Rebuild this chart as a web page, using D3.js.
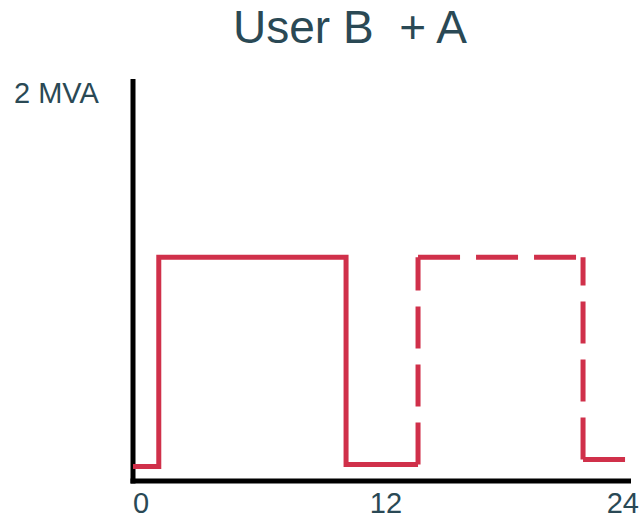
<!DOCTYPE html>
<html>
<head>
<meta charset="utf-8">
<script src="https://cdn.jsdelivr.net/npm/d3@7"></script>
<style>
  html, body { margin: 0; padding: 0; background: #ffffff; }
  svg { display: block; }
  text { font-family: "Liberation Sans", Arial, sans-serif; fill: #2a4955; }
</style>
</head>
<body>
<svg id="chart" width="644" height="521"></svg>
<script>
// ---- data ----
const title = "User B  + A";
const yLabel = "2 MVA";
const xTicks = [0, 12, 24];
// solid part (User B): step-after points [hour, MVA]
const solidHours = [0, 1.25, 10.33, 13.82];
const solidValues = [0.075, 1.15, 0.085, 0.085];
// dashed part (User A added): step-after points [hour, MVA]
const dashHours = [13.82, 13.82, 21.82, 24];
const dashValues = [0.085, 1.15, 0.11, 0.11];

// ---- layout ----
const svg = d3.select("#chart");
const x = d3.scaleLinear().domain([0, 24]).range([133, 628]);
const y = d3.scaleLinear().domain([0, 2]).range([481, 92]);
const red = "#d0304a";

// title
svg.append("text")
  .attr("x", 350).attr("y", 43)
  .attr("text-anchor", "middle")
  .style("font-size", "46px")
  .style("white-space", "pre")
  .attr("xml:space", "preserve")
  .text(title);

// y label
svg.append("text")
  .attr("x", 14).attr("y", 103)
  .style("font-size", "29px")
  .text(yLabel);

// axes
svg.append("line")
  .attr("x1", x(0)).attr("x2", x(0))
  .attr("y1", 79).attr("y2", y(0) + 2.5)
  .attr("stroke", "#000").attr("stroke-width", 5);
svg.append("line")
  .attr("x1", x(0) - 2.5).attr("x2", 631)
  .attr("y1", y(0)).attr("y2", y(0))
  .attr("stroke", "#000").attr("stroke-width", 5);

// x tick labels
const anchors = ["start", "middle", "end"];
const dxs = [0, 5.5, 11];
svg.selectAll("text.tick")
  .data(xTicks)
  .enter().append("text")
  .attr("class", "tick")
  .attr("x", (d, i) => x(d) + dxs[i])
  .attr("y", 513)
  .attr("text-anchor", (d, i) => anchors[i])
  .style("font-size", "29px")
  .text(d => d);

// solid step line
const solidPts = solidHours.map((h, i) => [h, solidValues[i]]);
const line = d3.line().x(d => x(d[0])).y(d => y(d[1])).curve(d3.curveStepAfter);
svg.append("path")
  .attr("d", line(solidPts))
  .attr("fill", "none")
  .attr("stroke", red)
  .attr("stroke-width", 5)
  .attr("stroke-linejoin", "miter");

// dashed step line: expand into vertices and draw each segment with its own dash start
const dashPts = dashHours.map((h, i) => [h, dashValues[i]]);
const verts = [];
dashPts.forEach((p, i) => {
  if (i > 0) verts.push([p[0], dashPts[i - 1][1]]);
  verts.push(p);
});
const segs = [];
for (let i = 0; i < verts.length - 1; i++) {
  let a = verts[i], b = verts[i + 1];
  if (a[0] === b[0] && a[1] === b[1]) continue;
  // vertical segments are dashed starting from their lower end
  if (a[0] === b[0] && a[1] > b[1]) { const t = a; a = b; b = t; }
  segs.push([a, b]);
}
svg.selectAll("path.dash")
  .data(segs)
  .enter().append("path")
  .attr("class", "dash")
  .attr("d", d => d3.line().x(p => x(p[0])).y(p => y(p[1])).curve(d3.curveLinear)(d))
  .attr("fill", "none")
  .attr("stroke", red)
  .attr("stroke-width", 5)
  .attr("stroke-dasharray", "42,16");
</script>
</body>
</html>
